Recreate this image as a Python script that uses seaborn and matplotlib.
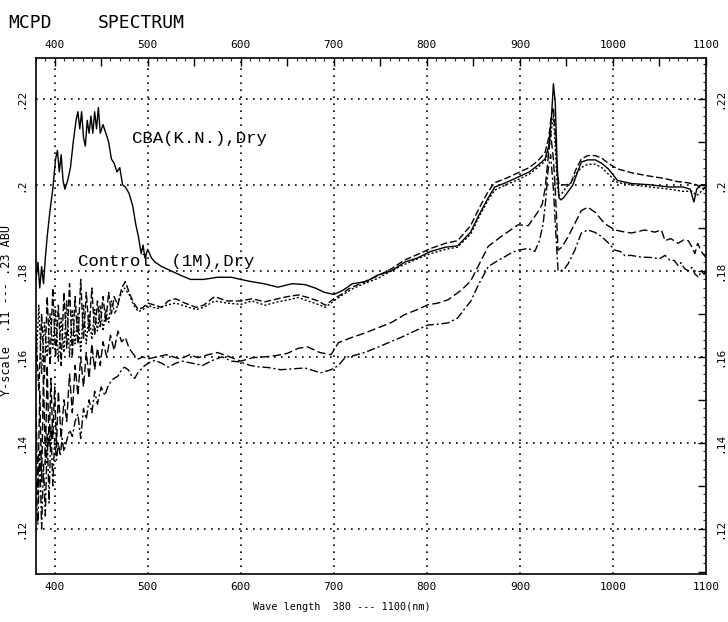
import numpy as np
import pandas as pd
import matplotlib
matplotlib.use("Agg")
import matplotlib.pyplot as plt
from matplotlib.ticker import MultipleLocator, FuncFormatter
import seaborn as sns

# ---------------- data ----------------
cba_wl = [380, 382, 384, 386, 388, 390, 392, 395, 398, 401, 403, 405, 407, 409, 411, 414, 417, 420,
          423, 425, 427, 429, 431, 433, 435, 437, 439, 441, 443, 445, 447, 449, 452, 455, 458, 461,
          464, 467, 470, 473, 476, 480, 484, 487, 490, 493, 495, 497, 500, 504, 508, 515, 525, 535,
          546, 560, 575, 590, 600, 611, 625, 640, 655, 669, 680, 690, 700, 710, 720, 735, 747, 762,
          776, 790, 804, 820, 833, 847, 856, 866, 873, 885, 898, 910, 919, 927, 931, 934, 936, 938,
          940, 942, 944, 947, 952, 957, 962, 966, 973, 981, 988, 995, 1005, 1020, 1040, 1060, 1075,
          1083, 1087, 1090, 1095, 1100]
cba_abu = [0.178, 0.182, 0.176, 0.181, 0.177, 0.183, 0.188, 0.194, 0.199, 0.206, 0.208, 0.203, 0.207,
           0.201, 0.199, 0.201, 0.204, 0.210, 0.215, 0.217, 0.213, 0.217, 0.211, 0.209, 0.215, 0.212,
           0.216, 0.212, 0.217, 0.213, 0.218, 0.212, 0.214, 0.212, 0.210, 0.206, 0.205, 0.203, 0.204,
           0.200, 0.1995, 0.198, 0.195, 0.191, 0.188, 0.184, 0.186, 0.183, 0.185, 0.183, 0.182, 0.181,
           0.180, 0.179, 0.178, 0.178, 0.1785, 0.1785, 0.178, 0.1775, 0.177, 0.1762, 0.177, 0.1768,
           0.176, 0.175, 0.1745, 0.1755, 0.177, 0.1775, 0.179, 0.180, 0.182, 0.183, 0.1845, 0.1855,
           0.1858, 0.189, 0.193, 0.197, 0.1995, 0.2005, 0.2018, 0.203, 0.2045, 0.206, 0.209, 0.216,
           0.2235, 0.219, 0.205, 0.197, 0.1965, 0.197, 0.1985, 0.200, 0.203, 0.2053, 0.2058, 0.2058,
           0.205, 0.2037, 0.201, 0.2003, 0.200, 0.1995, 0.1995, 0.199, 0.196, 0.199, 0.200, 0.200]

ctl_a_wl = [380, 383, 386, 389, 392, 395, 398, 401, 404, 407, 410, 413, 416, 419, 422, 425, 428, 431,
            434, 437, 440, 443, 446, 449, 452, 455, 458, 461, 464, 468, 472, 476, 480, 485, 490, 495,
            500, 508, 515, 522, 530, 540, 552, 560, 572, 585, 600, 612, 626, 640, 650, 662, 672, 683,
            691, 700, 708, 716, 730, 747, 762, 776, 790, 804, 820, 833, 847, 856, 866, 873, 885, 898,
            910, 919, 927, 931, 934, 936, 938, 940, 942, 946, 950, 955, 960, 966, 973, 981, 988, 995,
            1005, 1020, 1040, 1055, 1068, 1080, 1090, 1095, 1100]
ctl_a_abu = [0.165, 0.152, 0.170, 0.155, 0.174, 0.158, 0.176, 0.160, 0.172, 0.158, 0.175, 0.162,
             0.177, 0.160, 0.174, 0.163, 0.178, 0.164, 0.175, 0.166, 0.176, 0.165, 0.173, 0.167,
             0.174, 0.168, 0.175, 0.170, 0.174, 0.172, 0.176, 0.1775, 0.175, 0.1725, 0.171, 0.1715,
             0.1725, 0.172, 0.1715, 0.173, 0.1735, 0.1725, 0.1715, 0.172, 0.174, 0.173, 0.173,
             0.1735, 0.1728, 0.1735, 0.174, 0.1744, 0.1738, 0.173, 0.172, 0.1735, 0.1745, 0.1758,
             0.1772, 0.1788, 0.1805, 0.1825, 0.1838, 0.1852, 0.1864, 0.187, 0.1905, 0.1945, 0.1985,
             0.2005, 0.2015, 0.2028, 0.204, 0.2055, 0.2075, 0.211, 0.2165, 0.218, 0.212, 0.203,
             0.200, 0.200, 0.200, 0.2005, 0.2035, 0.206, 0.2068, 0.2068, 0.2062, 0.205, 0.2037,
             0.2028, 0.202, 0.2015, 0.2008, 0.2005, 0.200, 0.199, 0.1995]

ctl_b_wl = [380, 383, 386, 389, 392, 395, 398, 401, 404, 407, 410, 413, 416, 419, 422, 425, 428, 431,
            434, 437, 440, 443, 446, 449, 452, 455, 458, 461, 465, 470, 475, 480, 485, 490, 495, 500,
            510, 520, 530, 540, 552, 560, 572, 585, 600, 612, 626, 640, 650, 662, 672, 683, 691, 700,
            710, 720, 730, 747, 762, 776, 790, 804, 820, 833, 847, 856, 866, 873, 885, 898, 910, 919,
            927, 931, 934, 936, 938, 940, 942, 945, 950, 955, 960, 966, 973, 981, 988, 995, 1005,
            1020, 1040, 1060, 1075, 1085, 1090, 1095, 1100]
ctl_b_abu = [0.158, 0.172, 0.156, 0.168, 0.160, 0.170, 0.162, 0.171, 0.159, 0.169, 0.161, 0.173,
             0.160, 0.171, 0.163, 0.170, 0.161, 0.172, 0.163, 0.170, 0.164, 0.171, 0.166, 0.172,
             0.166, 0.171, 0.168, 0.173, 0.170, 0.174, 0.176, 0.1745, 0.172, 0.1705, 0.171, 0.172,
             0.1712, 0.172, 0.1725, 0.1718, 0.171, 0.1715, 0.173, 0.1725, 0.1722, 0.173, 0.172,
             0.1728, 0.1732, 0.1738, 0.173, 0.1722, 0.1715, 0.173, 0.1745, 0.1758, 0.1768, 0.1782,
             0.180, 0.1815, 0.1828, 0.184, 0.185, 0.1855, 0.1885, 0.1925, 0.1965, 0.1988, 0.200,
             0.2012, 0.2025, 0.204, 0.2055, 0.208, 0.213, 0.216, 0.209, 0.200, 0.1975, 0.198,
             0.1995, 0.2005, 0.2025, 0.204, 0.2048, 0.2048, 0.204, 0.2025, 0.2005, 0.200, 0.1995,
             0.199, 0.1985, 0.1985, 0.1975, 0.1985, 0.1995]

low_a_wl = [380, 382, 384, 386, 388, 390, 392, 394, 396, 398, 400, 402, 404, 407, 410, 413, 416, 419,
            422, 425, 428, 431, 434, 437, 440, 443, 446, 449, 452, 456, 460, 464, 468, 472, 476, 480,
            485, 490, 495, 500, 510, 520, 535, 545, 554, 565, 575, 588, 600, 613, 626, 638, 650, 662,
            672, 685, 697, 705, 718, 733, 747, 762, 776, 790, 801, 812, 823, 837, 847, 855, 866, 880,
            890, 898, 909, 919, 924, 927, 930, 933, 936, 938, 941, 945, 952, 959, 966, 973, 981, 991,
            1002, 1013, 1020, 1034, 1045, 1052, 1056, 1062, 1070, 1076, 1081, 1085, 1088, 1091,
            1095, 1100]
low_a_abu = [0.148, 0.128, 0.152, 0.131, 0.156, 0.135, 0.158, 0.139, 0.155, 0.141, 0.153, 0.139,
             0.152, 0.141, 0.150, 0.145, 0.156, 0.147, 0.158, 0.151, 0.160, 0.153, 0.161, 0.155,
             0.163, 0.157, 0.162, 0.158, 0.1635, 0.160, 0.165, 0.1615, 0.166, 0.1635, 0.1645, 0.162,
             0.1605, 0.1595, 0.160, 0.1595, 0.160, 0.1605, 0.1595, 0.1605, 0.1598, 0.1605, 0.161,
             0.160, 0.159, 0.1598, 0.160, 0.1603, 0.1608, 0.162, 0.1623, 0.161, 0.1605, 0.1633,
             0.1644, 0.1655, 0.1667, 0.168, 0.1698, 0.171, 0.1721, 0.1725, 0.1733, 0.1755, 0.1776,
             0.181, 0.1857, 0.188, 0.1895, 0.1907, 0.1905, 0.1936, 0.1955, 0.199, 0.2055, 0.212,
             0.206, 0.199, 0.1848, 0.1855, 0.188, 0.191, 0.194, 0.1948, 0.1936, 0.191, 0.1895,
             0.189, 0.1888, 0.1895, 0.189, 0.1895, 0.187, 0.1875, 0.1864, 0.1872, 0.187, 0.1855,
             0.184, 0.1864, 0.1845, 0.183]

low_b_wl = [380, 382, 384, 386, 388, 390, 392, 394, 396, 398, 400, 402, 404, 406, 408, 410, 413, 416,
            419, 422, 425, 428, 431, 434, 437, 440, 443, 446, 450, 454, 457, 461, 464, 468, 472, 475,
            479, 483, 486, 490, 497, 503, 508, 515, 522, 530, 537, 548, 559, 570, 580, 590, 600, 610,
            618, 630, 643, 655, 669, 678, 686, 697, 705, 712, 720, 733, 747, 761, 772, 783, 792, 801,
            812, 823, 833, 840, 847, 856, 866, 875, 884, 891, 898, 909, 916, 921, 925, 928, 930, 933,
            936, 938, 941, 944, 948, 952, 959, 966, 973, 980, 987, 995, 1002, 1008, 1013, 1019,
            1030, 1041, 1050, 1056, 1061, 1066, 1070, 1073, 1077, 1081, 1085, 1088, 1092, 1095,
            1098, 1100]
low_b_abu = [0.131, 0.121, 0.138, 0.120, 0.135, 0.123, 0.142, 0.126, 0.144, 0.130, 0.141, 0.136,
             0.140, 0.137, 0.141, 0.138, 0.1405, 0.143, 0.1415, 0.145, 0.1467, 0.141, 0.148, 0.1455,
             0.150, 0.147, 0.152, 0.149, 0.153, 0.151, 0.153, 0.1545, 0.155, 0.1555, 0.157, 0.1576,
             0.157, 0.1555, 0.155, 0.1565, 0.158, 0.1588, 0.1592, 0.1585, 0.1576, 0.1585, 0.159,
             0.1585, 0.158, 0.1592, 0.160, 0.159, 0.1588, 0.158, 0.1577, 0.1575, 0.157, 0.1572,
             0.1574, 0.1568, 0.1563, 0.157, 0.158, 0.1598, 0.1602, 0.161, 0.1622, 0.1635, 0.1645,
             0.1656, 0.1665, 0.1674, 0.1676, 0.1679, 0.169, 0.171, 0.1729, 0.177, 0.181, 0.1822,
             0.1833, 0.1842, 0.1848, 0.1852, 0.1845, 0.187, 0.191, 0.197, 0.203, 0.207, 0.199, 0.191,
             0.180, 0.180, 0.1805, 0.1817, 0.1848, 0.1888, 0.1895, 0.189, 0.1881, 0.1865, 0.1848,
             0.1845, 0.1835, 0.1836, 0.1832, 0.1831, 0.1828, 0.1836, 0.1825, 0.1824, 0.1812, 0.1819,
             0.1805, 0.180, 0.1808, 0.1793, 0.1785, 0.180, 0.1792, 0.1805]

series_names = ["CBA(K.N.),Dry", "Control (1M),Dry", "Control (1M),Dry b", "Sample c", "Sample d"]

x_tick_values = [400, 500, 600, 700, 800, 900, 1000, 1100]
x_tick_labels = ["400", "500", "600", "700", "800", "900", "1000", "1100"]
y_tick_values = [0.12, 0.14, 0.16, 0.18, 0.20, 0.22]
y_tick_labels = [".12", ".14", ".16", ".18", ".2", ".22"]

# ---------------- build ----------------
frames = []
for name, wl, ab in zip(series_names,
                        [cba_wl, ctl_a_wl, ctl_b_wl, low_a_wl, low_b_wl],
                        [cba_abu, ctl_a_abu, ctl_b_abu, low_a_abu, low_b_abu]):
    frames.append(pd.DataFrame({"wavelength": wl, "abu": ab, "series": name}))
df = pd.concat(frames, ignore_index=True)

sns.set_theme(style="white")
plt.rcParams["font.family"] = ["DejaVu Sans Mono", "DejaVu Sans"]

fig = plt.figure(figsize=(7.28, 6.22), dpi=100)
ax = fig.add_axes([0.0495, 0.0772, 0.9203, 0.8296])

dash_map = {
    series_names[0]: "",
    series_names[1]: (5, 2),
    series_names[2]: (1.5, 1.5),
    series_names[3]: (6, 2.5),
    series_names[4]: (6, 2, 1.5, 2),
}
sns.lineplot(data=df, x="wavelength", y="abu", style="series", dashes=dash_map,
             color="black", linewidth=1.0, estimator=None, sort=False, legend=False, ax=ax)

ax.set_xlim(380, 1100)
ax.set_ylim(0.1095, 0.2295)

# dotted grid
for xv in x_tick_values[:-1]:
    ax.axvline(xv, color="black", lw=1.2, ls=(0, (1, 3.2)), zorder=0)
for yv in y_tick_values:
    ax.axhline(yv, color="black", lw=1.2, ls=(0, (1, 3.2)), zorder=0)

xlab = dict(zip(x_tick_values, x_tick_labels))
ylab = {round(v, 3): s for v, s in zip(y_tick_values, y_tick_labels)}

ax.xaxis.set_major_locator(MultipleLocator(50))
ax.xaxis.set_minor_locator(MultipleLocator(10))
ax.xaxis.set_major_formatter(FuncFormatter(lambda v, p: xlab.get(int(round(v)), "")))
ax.yaxis.set_major_locator(MultipleLocator(0.01))
ax.yaxis.set_minor_locator(MultipleLocator(0.002))
ax.yaxis.set_major_formatter(FuncFormatter(lambda v, p: ylab.get(round(v, 3), "")))

ax.tick_params(axis="both", which="major", direction="in", length=6, width=1.0,
               top=True, right=True, labeltop=True, labelright=True, labelsize=8,
               colors="black")
ax.tick_params(axis="both", which="minor", direction="in", length=2.5, width=0.8,
               top=True, right=True)
ax.tick_params(axis="x", which="major", pad=6)
ax.tick_params(axis="y", which="major", labelrotation=90, pad=7)
for lbl in ax.get_yticklabels():
    lbl.set_va("center")

for sp in ax.spines.values():
    sp.set_color("black")
    sp.set_linewidth(1.2)

ax.set_xlabel("")
ax.set_ylabel("")

# annotations
ax.text(483, 0.2107, "CBA(K.N.),Dry", family="Liberation Mono", fontsize=12.5,
        va="center", ha="left", color="black")
ax.text(425, 0.1822, "Control  (1M),Dry", family="Liberation Mono", fontsize=12.5,
        va="center", ha="left", color="black")

fig.text(0.011, 0.978, "MCPD", fontsize=13, va="top", ha="left", color="black")
fig.text(0.134, 0.978, "SPECTRUM", fontsize=13, va="top", ha="left", color="black")
fig.text(0.47, 0.024, "Wave length  380 --- 1100(nm)", fontsize=7.3, va="center", ha="center",
         color="black")
fig.text(0.0095, 0.50, "Y-scale  .11 --- .23 ABU", fontsize=8.5, rotation=90, va="center",
         ha="center", color="black")

fig.savefig("out.png", dpi=100, facecolor="white")
